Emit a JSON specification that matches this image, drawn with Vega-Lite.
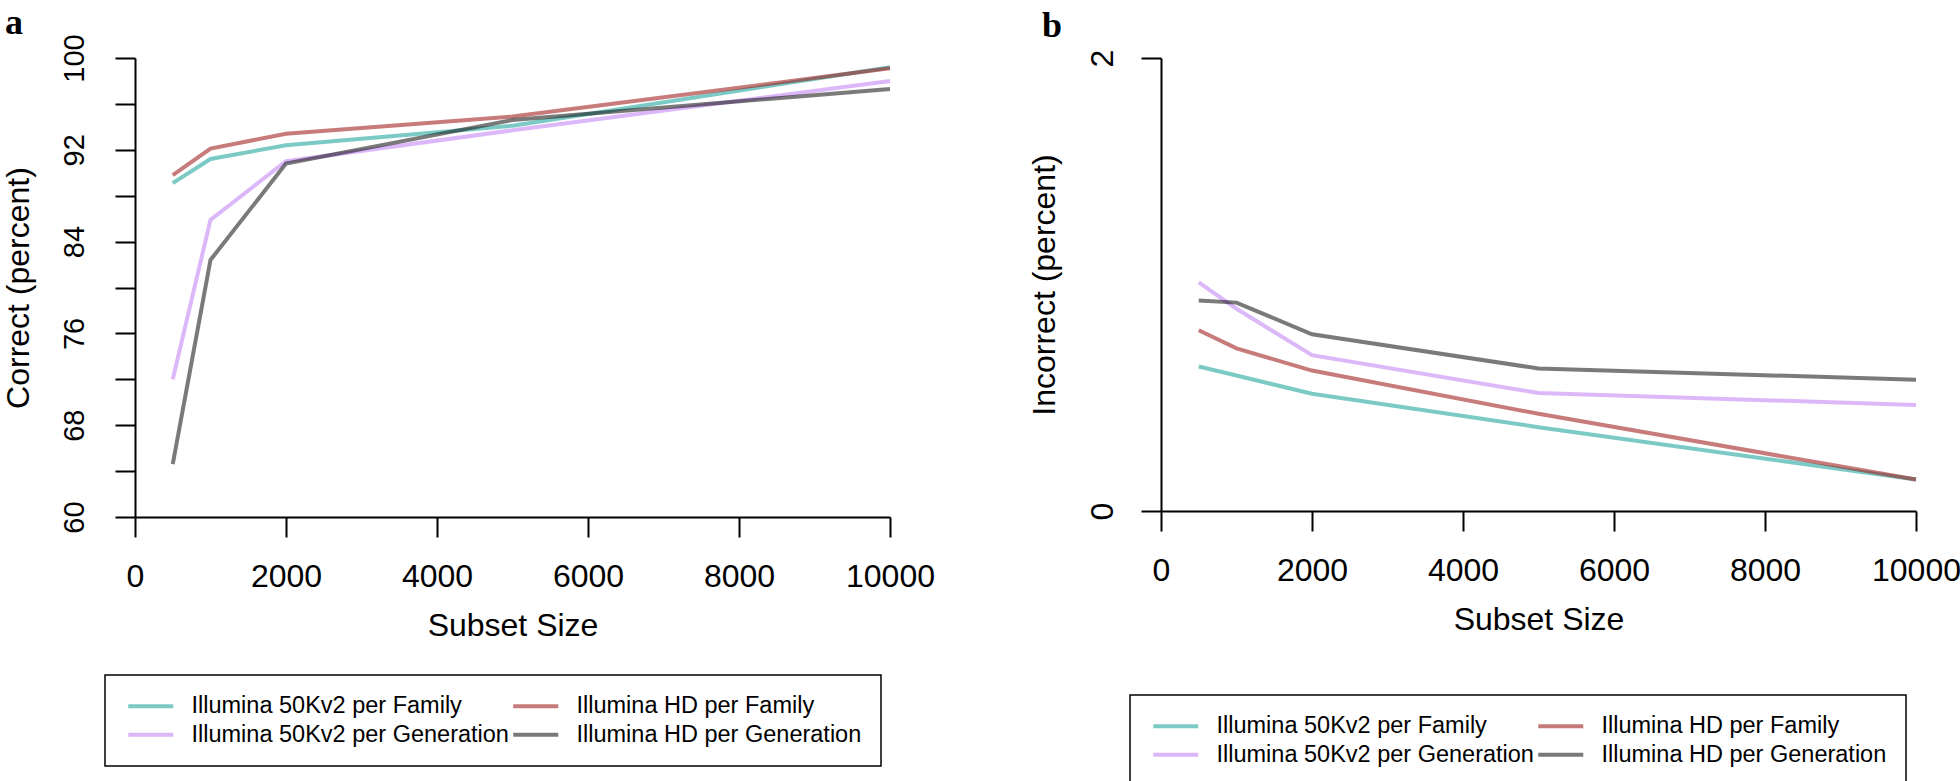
{
  "$schema": "https://vega.github.io/schema/vega-lite/v6.json",
  "background": "white",
  "padding": {"left": 2, "top": 4, "right": 0, "bottom": 0},
  "bounds": "flush",
  "spacing": 271,
  "datasets": {
    "correct": [
      {"size": 500, "series": "Illumina 50Kv2 per Family", "value": 89.1},
      {"size": 1000, "series": "Illumina 50Kv2 per Family", "value": 91.2},
      {"size": 2000, "series": "Illumina 50Kv2 per Family", "value": 92.4},
      {"size": 5000, "series": "Illumina 50Kv2 per Family", "value": 94.1},
      {"size": 10000, "series": "Illumina 50Kv2 per Family", "value": 99.2},
      {"size": 500, "series": "Illumina 50Kv2 per Generation", "value": 72.0},
      {"size": 1000, "series": "Illumina 50Kv2 per Generation", "value": 85.9},
      {"size": 2000, "series": "Illumina 50Kv2 per Generation", "value": 91.0},
      {"size": 5000, "series": "Illumina 50Kv2 per Generation", "value": 93.7},
      {"size": 10000, "series": "Illumina 50Kv2 per Generation", "value": 98.0},
      {"size": 500, "series": "Illumina HD per Family", "value": 89.8},
      {"size": 1000, "series": "Illumina HD per Family", "value": 92.1},
      {"size": 2000, "series": "Illumina HD per Family", "value": 93.4},
      {"size": 5000, "series": "Illumina HD per Family", "value": 94.9},
      {"size": 10000, "series": "Illumina HD per Family", "value": 99.1},
      {"size": 500, "series": "Illumina HD per Generation", "value": 64.6},
      {"size": 1000, "series": "Illumina HD per Generation", "value": 82.4},
      {"size": 2000, "series": "Illumina HD per Generation", "value": 90.8},
      {"size": 5000, "series": "Illumina HD per Generation", "value": 94.6},
      {"size": 10000, "series": "Illumina HD per Generation", "value": 97.3}
    ],
    "incorrect": [
      {"size": 500, "series": "Illumina 50Kv2 per Family", "value": 0.638},
      {"size": 1000, "series": "Illumina 50Kv2 per Family", "value": 0.598},
      {"size": 2000, "series": "Illumina 50Kv2 per Family", "value": 0.518},
      {"size": 5000, "series": "Illumina 50Kv2 per Family", "value": 0.370},
      {"size": 10000, "series": "Illumina 50Kv2 per Family", "value": 0.139},
      {"size": 500, "series": "Illumina 50Kv2 per Generation", "value": 1.009},
      {"size": 1000, "series": "Illumina 50Kv2 per Generation", "value": 0.893},
      {"size": 2000, "series": "Illumina 50Kv2 per Generation", "value": 0.688},
      {"size": 5000, "series": "Illumina 50Kv2 per Generation", "value": 0.521},
      {"size": 10000, "series": "Illumina 50Kv2 per Generation", "value": 0.468},
      {"size": 500, "series": "Illumina HD per Family", "value": 0.798},
      {"size": 1000, "series": "Illumina HD per Family", "value": 0.718},
      {"size": 2000, "series": "Illumina HD per Family", "value": 0.620},
      {"size": 5000, "series": "Illumina HD per Family", "value": 0.429},
      {"size": 10000, "series": "Illumina HD per Family", "value": 0.139},
      {"size": 500, "series": "Illumina HD per Generation", "value": 0.929},
      {"size": 1000, "series": "Illumina HD per Generation", "value": 0.920},
      {"size": 2000, "series": "Illumina HD per Generation", "value": 0.780},
      {"size": 5000, "series": "Illumina HD per Generation", "value": 0.629},
      {"size": 10000, "series": "Illumina HD per Generation", "value": 0.580}
    ]
  },
  "config": {
    "font": "Liberation Sans",
    "view": {"stroke": null},
    "axis": {
      "domainColor": "black", "domainWidth": 2, "tickColor": "black", "tickWidth": 2, "tickSize": 20,
      "labelFontSize": 32, "titleFontSize": 32, "labelColor": "black", "titleColor": "black",
      "titleFontWeight": "normal", "grid": false, "labelFont": "Liberation Sans", "titleFont": "Liberation Sans",
      "labelOverlap": false, "labelFlush": false
    },
    "legend": {
      "orient": "none", "direction": "horizontal", "columns": 2, "title": null, "symbolType": "M-1,0H5", "symbolSize": 225,
      "symbolStrokeWidth": 4, "symbolOpacity": 0.55, "labelFontSize": 23.5, "labelFont": "Liberation Sans",
      "labelColor": "black", "labelLimit": 1000, "labelOffset": 44, "columnPadding": -4, "rowPadding": 4,
      "padding": 19, "strokeColor": "black", "strokeWidth": 1.5
    },
    "title": {"font": "Liberation Serif", "fontWeight": "bold", "fontSize": 36, "anchor": "start", "frame": "group", "baseline": "alphabetic", "color": "black"}
  },
  "hconcat": [
    {
      "width": 755, "height": 459,
      "title": {"text": "a", "dx": -130, "offset": -8},
      "data": {"name": "correct"},
      "mark": {"type": "line", "strokeWidth": 4, "opacity": 0.55},
      "encoding": {
        "x": {"field": "size", "type": "quantitative", "scale": {"domain": [0, 10000], "nice": false, "zero": false},
          "axis": {"title": "Subset Size", "values": [0, 2000, 4000, 6000, 8000, 10000], "format": "d", "labelPadding": 24, "titlePadding": 18}},
        "y": {"field": "value", "type": "quantitative", "scale": {"domain": [60, 100], "nice": false, "zero": false},
          "axis": {"title": "Correct (percent)", "values": [60, 64, 68, 72, 76, 80, 84, 88, 92, 96, 100],
            "labelExpr": "(datum.value - 60) % 8 === 0 ? datum.label : ''", "labelFontSize": 29,
            "labelAngle": 270, "labelAlign": "center", "labelBaseline": "alphabetic", "labelPadding": 32, "titlePadding": 25}},
        "color": {"field": "series", "type": "nominal",
          "scale": {"domain": ["Illumina 50Kv2 per Family", "Illumina HD per Family", "Illumina 50Kv2 per Generation", "Illumina HD per Generation"],
            "range": ["#119f96", "#990f0f", "#bf7ef4", "#0d0d0d"]},
          "legend": {"legendX": -30, "legendY": 617,
            "labelExpr": "indexof(datum.label, 'HD') >= 0 ? datum.label + '\u00a0\u00a0\u00a0\u00a0\u00a0' : datum.label"}}
      }
    },
    {
      "width": 755, "height": 453,
      "title": {"text": "b", "dx": -119, "offset": 4},
      "data": {"name": "incorrect"},
      "mark": {"type": "line", "strokeWidth": 4, "opacity": 0.55},
      "encoding": {
        "x": {"field": "size", "type": "quantitative", "scale": {"domain": [0, 10000], "nice": false, "zero": false},
          "axis": {"title": "Subset Size", "values": [0, 2000, 4000, 6000, 8000, 10000], "format": "d", "labelPadding": 24, "titlePadding": 18}},
        "y": {"field": "value", "type": "quantitative", "scale": {"domain": [0, 2], "nice": false, "zero": false},
          "axis": {"title": "Incorrect (percent)", "values": [0, 1, 2], "format": "d",
            "labelAngle": 270, "labelAlign": "center", "labelBaseline": "alphabetic", "labelPadding": 29, "titlePadding": 25}},
        "color": {"field": "series", "type": "nominal",
          "scale": {"domain": ["Illumina 50Kv2 per Family", "Illumina HD per Family", "Illumina 50Kv2 per Generation", "Illumina HD per Generation"],
            "range": ["#119f96", "#990f0f", "#bf7ef4", "#0d0d0d"]},
          "legend": {"legendX": -31, "legendY": 637,
            "labelExpr": "indexof(datum.label, 'HD') >= 0 ? datum.label + '\u00a0\u00a0\u00a0\u00a0\u00a0' : datum.label"}}
      }
    }
  ],
  "resolve": {"scale": {"color": "independent"}, "legend": {"color": "independent"}}
}
